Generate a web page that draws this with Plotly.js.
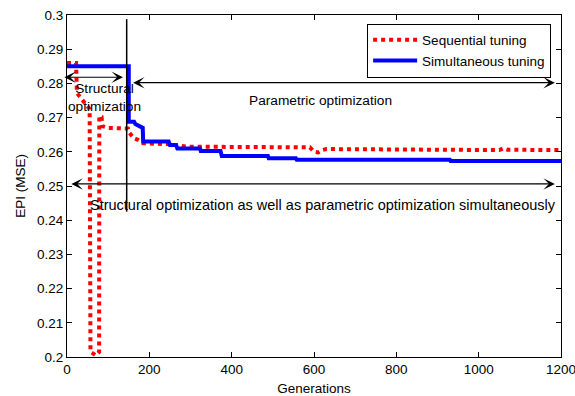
<!DOCTYPE html>
<html>
<head>
<meta charset="utf-8">
<script src="https://cdn.plot.ly/plotly-3.0.1.min.js"></script>
<style>html,body{margin:0;padding:0;background:#fff;}#chart{width:575px;height:396px;}</style>
</head>
<body>
<div id="chart"></div>
<script>
// Sequential tuning (red dotted)
var seqGen = [0, 22, 24, 55, 57, 70, 78, 78.5, 84, 86, 100, 148, 152, 156, 162, 172, 185, 250, 290, 590, 600, 610, 620, 630, 800, 1050, 1060, 1070, 1200];
var seqEPI = [0.286, 0.286, 0.2772, 0.2725, 0.2015, 0.2005, 0.2015, 0.2705, 0.2702, 0.2675, 0.2670, 0.2668, 0.2655, 0.2648, 0.2640, 0.2635, 0.2625, 0.2622, 0.2615, 0.2613, 0.2600, 0.2598, 0.2605, 0.2608, 0.2607, 0.2605, 0.2610, 0.2606, 0.2605];
// Simultaneous tuning (blue solid)
var simGen = [0, 150, 150, 163, 166, 176, 184, 185, 247, 250, 265, 268, 323, 325, 373, 376, 488, 490, 556, 558, 930, 932, 1200];
var simEPI = [0.285, 0.285, 0.2688, 0.2688, 0.2681, 0.2675, 0.2670, 0.2630, 0.2630, 0.2620, 0.2620, 0.2610, 0.2610, 0.2602, 0.2602, 0.2588, 0.2588, 0.2581, 0.2581, 0.2577, 0.2577, 0.2573, 0.2573];
var seriesNames = ['Sequential tuning', 'Simultaneous tuning'];
var xTicks = [0, 200, 400, 600, 800, 1000, 1200];
var yTicks = [0.2, 0.21, 0.22, 0.23, 0.24, 0.25, 0.26, 0.27, 0.28, 0.29, 0.3];
var labelTexts = ['Structural<br>optimization', 'Parametric optimization', 'Structural optimization as well as parametric optimization simultaneously'];

var FONT = 'Liberation Sans, Arial, sans-serif';
var traces = [
  {x: seqGen, y: seqEPI, name: seriesNames[0], mode: 'lines', line: {color: '#ff0000', width: 4, dash: 'dot'}},
  {x: simGen, y: simEPI, name: seriesNames[1], mode: 'lines', line: {color: '#0000ff', width: 4}}
];
function arrow(x0, x1, y) {
  return {x: x1, y: y, ax: x0, ay: y, xref: 'x', yref: 'y', axref: 'x', ayref: 'y', text: '',
    showarrow: true, arrowside: 'end+start', arrowhead: 3, startarrowhead: 3,
    arrowsize: 1.6, startarrowsize: 1.6, arrowwidth: 1.2, arrowcolor: '#000', standoff: 0, startstandoff: 0};
}
var layout = {
  width: 575, height: 396,
  margin: {l: 67, r: 14, t: 15, b: 39},
  paper_bgcolor: '#fff', plot_bgcolor: '#fff',
  font: {family: FONT, size: 13.5, color: '#000'},
  showlegend: true,
  legend: {x: 0.98, y: 0.975, xanchor: 'right', yanchor: 'top', bgcolor: '#fff', bordercolor: '#000', borderwidth: 1,
    font: {family: FONT, size: 13.5, color: '#000'}, itemwidth: 44},
  xaxis: {range: [0, 1200], tickvals: xTicks, ticks: 'inside', ticklen: 5, tickcolor: '#000', showline: true, linecolor: '#000', linewidth: 1,
    mirror: 'ticks', showgrid: false, zeroline: false, ticklabeloverflow: 'allow',
    title: {text: 'Generations', font: {size: 13.5}, standoff: 9}},
  yaxis: {range: [0.2, 0.3], tickvals: yTicks, ticks: 'inside', ticklen: 5, tickcolor: '#000', showline: true, linecolor: '#000', linewidth: 1,
    mirror: 'ticks', showgrid: false, zeroline: false, title: {text: 'EPI (MSE)', font: {size: 13.5}, standoff: 8}},
  shapes: [{type: 'line', xref: 'x', yref: 'y', x0: 145, x1: 145, y0: 0.2988, y1: 0.2425, line: {color: '#000', width: 1.5}}],
  annotations: [
    arrow(-10, 136, 0.2818),
    arrow(157, 1185, 0.2802),
    arrow(7, 1185, 0.2506),
    {x: 90, y: 0.2758, xref: 'x', yref: 'y', text: labelTexts[0], showarrow: false, font: {size: 13.7}, align: 'center'},
    {x: 615, y: 0.2750, xref: 'x', yref: 'y', text: labelTexts[1], showarrow: false, font: {size: 13.7}},
    {x: 623, y: 0.2443, xref: 'x', yref: 'y', text: labelTexts[2], showarrow: false, font: {size: 14.5}}
  ]
};
Plotly.newPlot('chart', traces, layout, {displayModeBar: false, staticPlot: true});
</script>
</body>
</html>
